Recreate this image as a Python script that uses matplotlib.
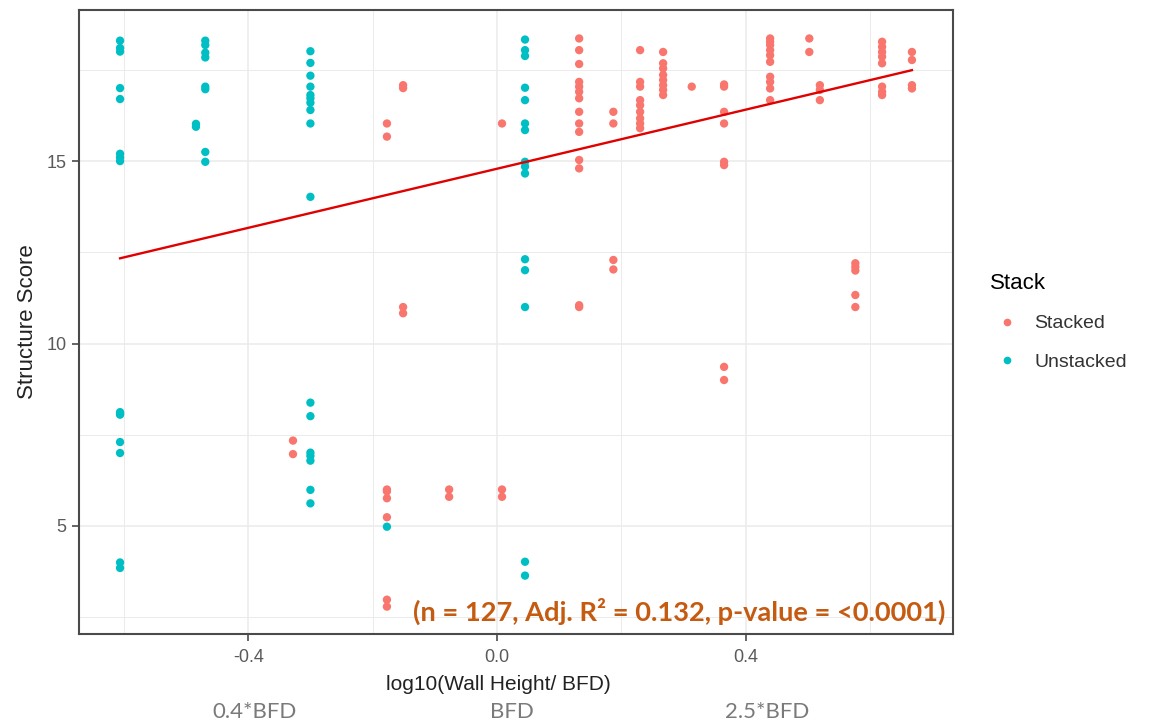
# Scatter of structure score vs log10(wall height / BFD), coloured by stack,
# with an overall linear fit (ggplot theme_bw look).

import numpy as np
import matplotlib
matplotlib.use("Agg")
import matplotlib.pyplot as plt
from matplotlib.lines import Line2D

# ---- data ------------------------------------------------------------------
# each x position is one wall-height group; the list holds the scores there
stacked_x = [-0.328, -0.177, -0.151, -0.077, 0.008, 0.132, 0.187, 0.230,
             0.267, 0.313, 0.365, 0.439, 0.502, 0.519, 0.576, 0.619, 0.667]
stacked_scores = [
    [7.34, 6.97],
    [16.03, 15.67, 6.0, 5.95, 5.76, 5.24, 2.98, 2.79],
    [17.08, 17.0, 11.0, 10.83],
    [6.0, 5.8],
    [16.03, 6.0, 5.8],
    [18.36, 18.04, 17.66, 17.17, 17.04, 16.9, 16.72, 16.35, 16.03, 15.8,
     15.03, 14.8, 11.05, 11.0],
    [16.35, 16.03, 12.29, 12.03],
    [18.04, 17.17, 17.04, 16.67, 16.53, 16.35, 16.17, 16.03, 15.9],
    [17.99, 17.68, 17.54, 17.36, 17.22, 17.08, 16.95, 16.81],
    [17.04],
    [17.1, 17.04, 16.35, 16.03, 14.98, 14.89, 9.36, 9.0],
    [18.36, 18.27, 18.18, 18.04, 17.9, 17.72, 17.31, 17.17, 16.99, 16.67],
    [18.36, 17.99],
    [17.08, 16.95, 16.67],
    [12.2, 12.1, 12.0, 11.33, 11.0],
    [18.27, 18.13, 17.99, 17.86, 17.68, 17.04, 16.9, 16.81],
    [17.99, 17.77, 17.08, 16.99],
]

unstacked_x = [-0.606, -0.469, -0.484, -0.300, -0.177, 0.045]
unstacked_scores = [
    [18.3, 18.1, 18.0, 17.0, 16.7, 15.2, 15.1, 15.0, 8.12, 8.08, 8.05,
     7.3, 7.0, 4.0, 3.85],
    [18.3, 18.18, 17.97, 17.84, 17.04, 16.97, 15.25, 14.98],
    [16.02, 15.94],
    [18.01, 17.69, 17.34, 17.04, 16.81, 16.72, 16.6, 16.4, 16.03, 14.02,
     8.38, 8.01, 7.01, 6.92, 6.79, 5.99, 5.62],
    [4.98],
    [18.33, 18.04, 17.88, 17.01, 16.67, 16.03, 15.85, 14.98, 14.85, 14.66,
     12.31, 12.01, 11.0, 4.02, 3.64],
]

# linear model over all walls
fit_intercept = 14.79
fit_slope = 4.05

stat_text = "(n = 127, Adj. R² = 0.132, p-value = <0.0001)"
bfd_labels = ["0.4*BFD", "BFD", "2.5*BFD"]

# ---- styling ---------------------------------------------------------------
COL_STACKED = "#F8766D"
COL_UNSTACKED = "#00BFC4"
GRID = "#EBEBEB"
plt.rcParams["font.family"] = ["Liberation Sans", "DejaVu Sans"]


def expand(xs, groups):
    px, py = [], []
    for x, ys in zip(xs, groups):
        px += [x] * len(ys)
        py += ys
    return np.array(px), np.array(py)


sx, sy = expand(stacked_x, stacked_scores)
ux, uy = expand(unstacked_x, unstacked_scores)

W, H = 1157, 726
fig = plt.figure(figsize=(W / 100, H / 100), dpi=100)
ax = fig.add_axes([79 / W, 1 - 634 / H, (953 - 79) / W, (634 - 10) / H])

ax.set_xlim(-0.672, 0.733)
ax.set_ylim(2.04, 19.14)

# grid (major + minor, like theme_bw)
ax.set_xticks([-0.4, 0.0, 0.4])
ax.set_xticks([-0.6, -0.2, 0.2, 0.6], minor=True)
ax.set_yticks([5, 10, 15])
ax.set_yticks([2.5, 7.5, 12.5, 17.5], minor=True)
ax.grid(which="major", color=GRID, lw=1.1)
ax.grid(which="minor", color=GRID, lw=0.7)
ax.set_axisbelow(True)

ax.scatter(sx, sy, s=36, color=COL_STACKED, edgecolors="none", zorder=3)
ax.scatter(ux, uy, s=36, color=COL_UNSTACKED, edgecolors="none", zorder=3)

all_x = np.concatenate([sx, ux])
line_x = np.array([all_x.min(), all_x.max()])
ax.plot(line_x, fit_intercept + fit_slope * line_x, color="#E00000",
        lw=1.7, zorder=4)

# axes frame and ticks
for sp in ax.spines.values():
    sp.set_color("#4A4A4A")
    sp.set_linewidth(1.5)
ax.tick_params(which="major", length=5, width=1.2, color="#4A4A4A",
               labelsize=13, labelcolor="#5A5A5A", pad=4)
ax.tick_params(axis="x", which="major", pad=6)
ax.tick_params(which="minor", length=0)
ax.set_xticklabels(["-0.4", "0.0", "0.4"])
ax.set_yticklabels(["5", "10", "15"])

ax.set_xlabel("log10(Wall Height/ BFD)", fontsize=15, color="#222222")
ax.xaxis.set_label_coords((498 - 79) / 874, -(685 - 634) / 624)
ax.xaxis.label.set_va("center")
ax.set_ylabel("Structure Score", fontsize=16, color="#222222", labelpad=6)

ax.text(0.991, 0.037, stat_text, transform=ax.transAxes, ha="right",
        va="center", fontsize=19.6, fontweight="bold", color="#C55A11",
        family=["Lato", "DejaVu Sans"], zorder=5)

# legend
handles = [
    Line2D([], [], ls="", marker="o", ms=5.5, mec="none", color=COL_STACKED),
    Line2D([], [], ls="", marker="o", ms=5.5, mec="none", color=COL_UNSTACKED),
]
leg = ax.legend(handles, ["Stacked", "Unstacked"], title="Stack",
                loc="center left", bbox_to_anchor=(980 / W, 1 - 322 / H),
                bbox_transform=fig.transFigure, frameon=False, fontsize=14,
                title_fontsize=16, alignment="left", handlelength=1.8,
                handletextpad=0.5, labelspacing=1.05, borderpad=0)
for t in leg.get_texts():
    t.set_color("#333333")

# reference-length labels under the x axis
for label, px in zip(bfd_labels, [255, 512, 767]):
    fig.text(px / W, 1 - 712 / H, label, ha="center", va="center",
             fontsize=16, color="#7A7A7A", family=["Lato", "DejaVu Sans"])

fig.savefig("out.png", dpi=100)
